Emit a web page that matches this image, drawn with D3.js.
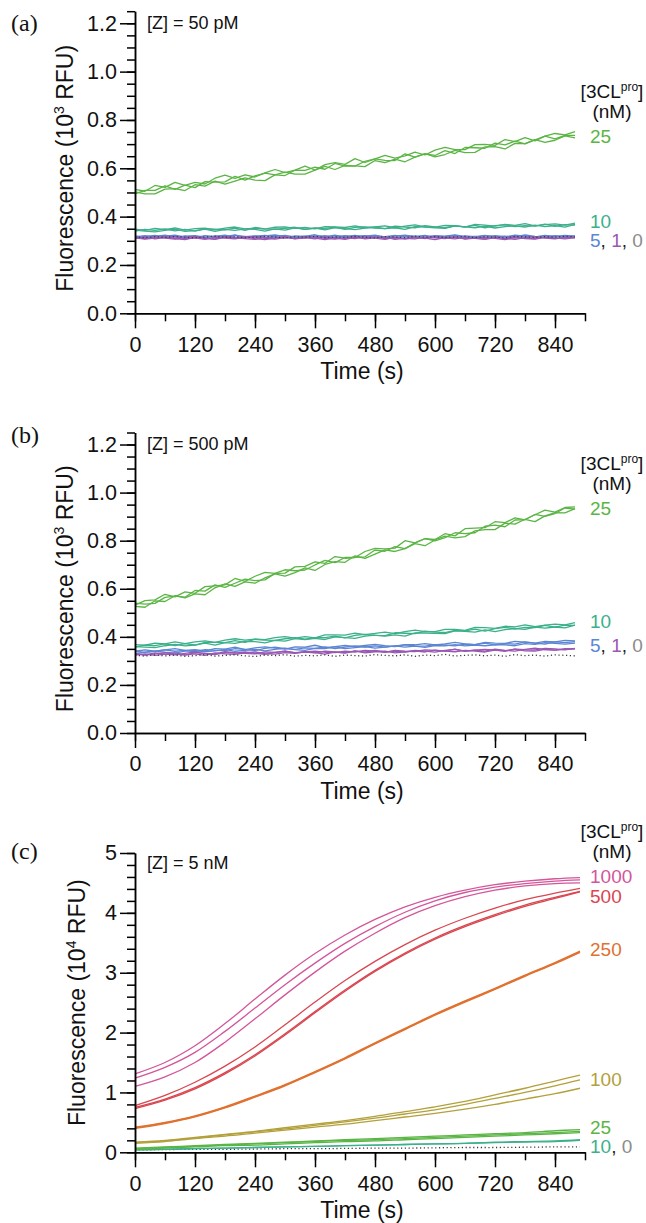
<!DOCTYPE html>
<html>
<head>
<meta charset="utf-8">
<script src="https://cdn.jsdelivr.net/npm/d3@7"></script>
<style>
body { margin: 0; background: #fff; }
svg { font-family: "Liberation Sans", Arial, Helvetica, sans-serif; }
</style>
</head>
<body>
<svg id="fig" width="646" height="1223"></svg>
<script>
// sampling times (s)
var timesAB = [0,20,40,60,80,100,120,140,160,180,200,220,240,260,280,300,320,340,360,380,400,420,440,460,480,500,520,540,560,580,600,620,640,660,680,700,720,740,760,780,800,820,840,860,880];
var timesC = [0,60,120,180,240,300,360,420,480,540,600,660,720,780,840,890];

// panel (a) [Z] = 50 pM, RFU
var a25_1 = [513,505,529,521,542,529,542,535,559,572,558,573,564,581,595,582,592,609,593,615,623,616,640,624,639,653,642,651,667,655,675,687,677,677,698,699,695,719,710,727,713,733,744,738,752];
var a25_2 = [494,509,509,527,513,530,520,545,543,544,567,551,569,580,573,570,592,591,605,596,620,609,609,629,639,633,632,660,646,660,653,673,661,686,685,683,704,697,712,701,718,733,722,736,736];
var a25_3 = [502,494,494,514,516,508,532,526,547,534,547,560,551,549,573,584,576,576,592,608,595,612,610,607,632,623,638,627,646,661,647,657,674,665,666,689,690,680,703,702,719,707,716,734,726];
var a10_1 = [348,343,351,346,353,344,350,352,345,352,357,349,352,348,356,358,351,355,349,359,358,355,362,354,358,362,354,361,366,358,357,364,363,357,368,365,361,368,364,371,362,367,370,365,373];
var a10_2 = [340,347,343,349,341,347,340,349,348,345,352,343,355,349,347,352,356,347,353,351,356,347,356,358,353,350,361,357,354,363,358,354,362,358,364,354,363,366,359,363,361,369,360,367,365];
var a10_3 = [344,340,337,343,348,339,342,348,339,347,343,349,347,340,349,344,354,347,352,345,355,350,346,353,356,350,354,347,359,357,354,351,362,358,354,361,353,359,362,357,365,359,363,357,368];
var a5_1 = [316,321,314,319,323,315,318,312,320,317,324,313,319,322,316,311,320,318,325,314,317,321,315,319,323,316,312,320,318,322,315,319,324,317,313,321,318,316,323,319,314,320,317,322,319];
var a5_2 = [320,314,318,323,316,319,313,321,317,315,322,318,312,320,324,317,314,319,316,321,313,318,322,316,320,314,319,323,317,315,321,318,313,320,317,322,315,319,316,324,318,313,321,317,320];
var a5_3 = [313,318,322,316,311,319,321,315,318,323,314,317,320,313,318,322,316,312,319,317,323,315,318,321,314,317,322,316,319,313,320,317,322,315,318,314,321,317,312,320,316,322,318,314,317];
var a1_1 = [314,309,316,311,307,313,318,310,306,314,311,316,309,305,312,317,310,313,308,315,311,306,314,310,316,309,312,307,314,311,305,313,316,309,312,308,315,310,306,313,317,311,308,314,312];
var a1_2 = [310,315,308,313,317,309,312,306,315,311,308,314,317,310,307,313,309,316,311,305,313,310,317,308,312,315,306,311,314,309,316,312,308,314,310,306,313,311,316,309,307,314,310,313,315];
var a1_3 = [312,307,311,316,309,305,314,311,308,317,312,309,306,314,311,316,308,312,315,310,307,313,309,316,311,306,314,310,308,315,312,309,316,307,311,314,310,305,313,311,309,315,312,308,313];
var a0 = [316,313,317,314,318,315,312,316,319,314,317,313,315,318,316,312,317,315,319,313,316,314,318,315,312,317,316,313,319,315,317,314,316,318,313,317,315,312,318,316,314,317,315,319,316];

// panel (b) [Z] = 500 pM, RFU
var b25_1 = [532,551,554,577,566,587,581,609,612,616,643,631,652,668,664,665,691,693,712,706,734,727,730,755,768,766,769,800,791,808,805,829,820,850,852,854,879,875,895,887,908,927,919,938,941];
var b25_2 = [540,536,539,564,569,565,593,590,616,606,623,640,634,637,664,679,675,678,699,718,709,730,731,733,761,756,775,767,791,809,799,813,833,829,833,860,865,858,886,888,909,901,913,936,931];
var b25_3 = [527,523,550,547,571,562,579,575,604,620,610,629,623,645,662,653,667,687,676,701,713,710,737,726,744,762,755,767,788,779,803,819,812,817,841,846,846,873,869,889,879,903,917,916,933];
var b10_1 = [368,365,374,371,379,372,379,383,377,386,392,386,390,388,397,401,395,401,396,408,408,407,415,409,414,420,413,422,428,422,422,431,431,427,439,438,435,444,441,450,442,449,453,450,459];
var b10_2 = [357,366,363,371,364,372,366,377,377,376,384,377,390,386,385,392,397,390,397,397,403,396,406,410,406,405,417,415,413,424,420,418,427,425,432,424,434,439,433,439,438,448,440,449,448];
var b10_3 = [359,357,355,363,369,362,366,374,366,376,373,381,380,375,385,382,393,388,394,389,400,397,394,403,407,403,408,403,416,416,414,413,425,423,420,429,422,430,434,431,440,436,441,437,449];
var b5_1 = [340,346,340,346,351,344,347,342,351,349,357,347,354,358,353,349,358,357,365,355,359,364,359,364,369,363,359,368,367,372,366,371,377,371,368,377,374,373,381,378,374,381,379,385,383];
var b5_2 = [340,335,340,346,340,344,338,347,344,343,351,348,343,352,357,351,348,354,352,358,351,357,362,357,362,357,362,367,362,361,368,366,362,370,368,374,367,372,370,379,374,370,379,376,380];
var b5_3 = [330,336,341,336,332,341,343,338,342,348,340,344,348,342,348,353,347,344,352,351,358,351,355,359,353,357,362,357,361,356,364,362,368,362,366,363,367,367,363,372,369,376,373,370,374];
var b1_1 = [330,325,333,328,325,331,337,329,326,334,332,337,331,327,335,340,334,337,333,340,337,332,341,337,344,337,341,336,344,341,336,344,348,341,345,341,349,344,341,348,353,347,345,351,350];
var b1_2 = [324,329,323,328,333,325,329,323,333,329,327,333,337,330,328,334,331,338,334,328,337,334,342,333,338,341,333,338,342,337,345,341,338,344,341,337,345,343,349,342,341,348,345,348,351];
var b1_3 = [329,324,329,334,328,324,334,331,329,338,334,331,329,337,335,340,333,337,341,336,334,340,337,344,340,335,344,340,339,346,344,341,349,340,345,348,345,340,349,347,346,352,350,346,352];
var b0 = [323,320,325,321,324,319,322,326,320,323,325,321,318,324,322,326,320,323,321,325,319,324,322,320,326,323,321,325,319,324,322,327,320,323,325,321,324,319,326,322,324,320,325,323,321];

// panel (c) [Z] = 5 nM, 10^4 RFU
var c1000_1 = [1.31,1.50,1.78,2.15,2.56,2.96,3.32,3.63,3.89,4.10,4.26,4.38,4.47,4.53,4.57,4.59];
var c1000_2 = [1.24,1.42,1.67,2.02,2.41,2.80,3.16,3.49,3.77,4.01,4.20,4.34,4.43,4.49,4.53,4.55];
var c1000_3 = [1.10,1.26,1.50,1.84,2.23,2.63,3.01,3.36,3.66,3.92,4.12,4.27,4.38,4.45,4.49,4.50];
var c500_1 = [0.78,0.95,1.17,1.44,1.76,2.13,2.51,2.87,3.19,3.47,3.71,3.91,4.08,4.22,4.33,4.41];
var c500_2 = [0.75,0.89,1.08,1.33,1.63,1.98,2.35,2.71,3.04,3.33,3.58,3.79,3.97,4.13,4.26,4.36];
var c500_3 = [0.73,0.87,1.06,1.31,1.61,1.96,2.33,2.69,3.02,3.31,3.56,3.77,3.95,4.11,4.24,4.35];
var c250_1 = [0.42,0.50,0.61,0.76,0.94,1.13,1.35,1.58,1.83,2.07,2.31,2.53,2.74,2.96,3.17,3.36];
var c250_2 = [0.41,0.49,0.60,0.75,0.93,1.12,1.34,1.57,1.82,2.06,2.30,2.52,2.73,2.95,3.16,3.35];
var c250_3 = [0.40,0.48,0.59,0.74,0.92,1.11,1.33,1.56,1.81,2.05,2.29,2.51,2.72,2.94,3.15,3.34];
var c100_1 = [0.17,0.20,0.25,0.30,0.35,0.41,0.47,0.53,0.60,0.68,0.76,0.85,0.96,1.07,1.19,1.29];
var c100_2 = [0.16,0.19,0.24,0.29,0.34,0.39,0.45,0.51,0.57,0.64,0.71,0.80,0.90,1.00,1.11,1.21];
var c100_3 = [0.15,0.18,0.23,0.27,0.32,0.37,0.42,0.47,0.53,0.59,0.65,0.72,0.80,0.89,0.98,1.07];
var c25_1 = [0.07,0.09,0.11,0.13,0.15,0.17,0.19,0.21,0.23,0.25,0.27,0.29,0.31,0.33,0.36,0.38];
var c25_2 = [0.06,0.08,0.10,0.12,0.14,0.16,0.18,0.20,0.21,0.23,0.25,0.27,0.29,0.31,0.33,0.35];
var c25_3 = [0.05,0.07,0.09,0.11,0.12,0.14,0.16,0.18,0.19,0.21,0.23,0.25,0.27,0.29,0.31,0.33];
var c10_1 = [0.04,0.05,0.06,0.07,0.08,0.09,0.10,0.11,0.12,0.13,0.14,0.15,0.17,0.18,0.19,0.21];
var c10_2 = [0.04,0.05,0.06,0.07,0.08,0.09,0.10,0.11,0.12,0.13,0.14,0.15,0.16,0.17,0.18,0.20];
var c0 = [0.040,0.045,0.050,0.050,0.055,0.060,0.060,0.065,0.070,0.070,0.075,0.080,0.080,0.085,0.090,0.090];

// tick labels
var xTicks = [0,120,240,360,480,600,720,840];
var yTicksAB = [0,200,400,600,800,1000,1200];
var yTicksC = [0,1,2,3,4,5];

var col = {
  p1000: "#d3569b", r500: "#d9464f", o250: "#e0712f", ol100: "#b3a03a",
  g25: "#5bb545", t10: "#3bb08b", b5: "#5c86d4", pu1: "#9b57b4",
  gr0: "#8c8c8c", dot: "#3a3a3a"
};
var FONT = "'Liberation Sans', Arial, Helvetica, sans-serif";

var x = d3.scaleLinear().domain([0, 900]).range([135, 585]);

function S(t, v, c, dots) { return {t: t, v: v, c: c, dots: !!dots}; }

var panels = [
  {
    tag: "(a)", tagY: 31, z: "[Z] = 50 pM", zY: 29,
    y: d3.scaleLinear().domain([0, 1250]).range([313.3, 11.2]),
    major: yTicksAB, minor: d3.range(0, 1251, 50), fmt: function (d) { return (d / 1000).toFixed(1); },
    exp: "3", titleX: 73, curve: d3.curveLinear,
    series: [
      S(timesAB, a25_1, col.g25), S(timesAB, a25_2, col.g25), S(timesAB, a25_3, col.g25),
      S(timesAB, a10_1, col.t10), S(timesAB, a10_2, col.t10), S(timesAB, a10_3, col.t10),
      S(timesAB, a5_1, col.b5), S(timesAB, a5_2, col.b5), S(timesAB, a5_3, col.b5),
      S(timesAB, a1_1, col.pu1), S(timesAB, a1_2, col.pu1), S(timesAB, a1_3, col.pu1),
      S(timesAB, a0, col.dot, true)
    ],
    labels: [
      {v: 735, parts: [["25", col.g25]]},
      {v: 382, parts: [["10", col.t10]]},
      {v: 303, parts: [["5", col.b5], [", ", "#222"], ["1", col.pu1], [", ", "#222"], ["0", col.gr0]]}
    ]
  },
  {
    tag: "(b)", tagY: 443, z: "[Z] = 500 pM", zY: 449.5,
    y: d3.scaleLinear().domain([0, 1250]).range([733, 432.5]),
    major: yTicksAB, minor: d3.range(0, 1251, 50), fmt: function (d) { return (d / 1000).toFixed(1); },
    exp: "3", titleX: 73, curve: d3.curveLinear,
    series: [
      S(timesAB, b25_1, col.g25), S(timesAB, b25_2, col.g25), S(timesAB, b25_3, col.g25),
      S(timesAB, b10_1, col.t10), S(timesAB, b10_2, col.t10), S(timesAB, b10_3, col.t10),
      S(timesAB, b5_1, col.b5), S(timesAB, b5_2, col.b5), S(timesAB, b5_3, col.b5),
      S(timesAB, b1_1, col.pu1), S(timesAB, b1_2, col.pu1), S(timesAB, b1_3, col.pu1),
      S(timesAB, b0, col.dot, true)
    ],
    labels: [
      {v: 934, parts: [["25", col.g25]]},
      {v: 465, parts: [["10", col.t10]]},
      {v: 365, parts: [["5", col.b5], [", ", "#222"], ["1", col.pu1], [", ", "#222"], ["0", col.gr0]]}
    ]
  },
  {
    tag: "(c)", tagY: 859, z: "[Z] = 5 nM", zY: 868.5,
    y: d3.scaleLinear().domain([0, 5]).range([1152.3, 853]),
    major: yTicksC, minor: d3.range(0, 5.01, 0.2), fmt: d3.format("d"),
    exp: "4", titleX: 85, curve: d3.curveCatmullRom,
    series: [
      S(timesC, c0, col.dot, true),
      S(timesC, c10_1, col.t10), S(timesC, c10_2, col.t10),
      S(timesC, c25_1, col.g25), S(timesC, c25_2, col.g25), S(timesC, c25_3, col.g25),
      S(timesC, c100_1, col.ol100), S(timesC, c100_2, col.ol100), S(timesC, c100_3, col.ol100),
      S(timesC, c250_1, col.o250), S(timesC, c250_2, col.o250), S(timesC, c250_3, col.o250),
      S(timesC, c500_1, col.r500), S(timesC, c500_2, col.r500), S(timesC, c500_3, col.r500),
      S(timesC, c1000_1, col.p1000), S(timesC, c1000_2, col.p1000), S(timesC, c1000_3, col.p1000)
    ],
    labels: [
      {v: 4.62, parts: [["1000", col.p1000]]},
      {v: 4.29, parts: [["500", col.r500]]},
      {v: 3.40, parts: [["250", col.o250]]},
      {v: 1.23, parts: [["100", col.ol100]]},
      {v: 0.42, parts: [["25", col.g25]]},
      {v: 0.10, parts: [["10", col.t10], [", ", "#222"], ["0", col.gr0]]}
    ]
  }
];

var svg = d3.select("#fig");

function styleAxis(g) {
  g.selectAll(".domain, .tick line").attr("stroke", "#000").attr("stroke-width", 1.5);
  g.selectAll("text").attr("font-size", 21.5).attr("fill", "#111").attr("font-family", FONT);
}

panels.forEach(function (p) {
  var y = p.y, y0 = y(0);
  var g = svg.append("g").attr("font-family", FONT);

  // data lines
  var line = d3.line().x(function (d) { return x(d[0]); }).y(function (d) { return y(d[1]); }).curve(p.curve);
  p.series.forEach(function (s) {
    var pts = s.t.map(function (t, i) { return [t, s.v[i]]; }).filter(function (d) { return d[1] != null; });
    var path = g.append("path").datum(pts).attr("d", line).attr("fill", "none")
      .attr("stroke", s.c).attr("stroke-linejoin", "round").attr("stroke-width", 1.3);
    if (s.dots) path.attr("stroke-dasharray", "1.2,2.6");
  });

  // y axis
  g.append("g").attr("transform", "translate(135,0)")
    .call(d3.axisLeft(y).tickValues(p.minor).tickSize(8).tickFormat("").tickSizeOuter(0)).call(styleAxis);
  g.append("g").attr("transform", "translate(135,0)")
    .call(d3.axisLeft(y).tickValues(p.major).tickSize(15).tickPadding(3).tickFormat(p.fmt).tickSizeOuter(0)).call(styleAxis);

  // x axis
  g.append("g").attr("transform", "translate(0," + y0 + ")")
    .call(d3.axisBottom(x).tickValues(d3.range(0, 901, 60)).tickSize(8).tickFormat("").tickSizeOuter(0)).call(styleAxis);
  g.append("g").attr("transform", "translate(0," + y0 + ")")
    .call(d3.axisBottom(x).tickValues(xTicks).tickSize(15).tickPadding(8).tickFormat(d3.format("d")).tickSizeOuter(0)).call(styleAxis);

  // axis titles
  g.append("text").attr("x", 362).attr("y", y0 + 66).attr("text-anchor", "middle")
    .attr("font-size", 23).attr("fill", "#111").text("Time (s)");
  var yt = g.append("text")
    .attr("transform", "translate(" + p.titleX + "," + ((y0 + y(p.major[p.major.length - 1])) / 2) + ") rotate(-90)")
    .attr("text-anchor", "middle").attr("font-size", 23).attr("fill", "#111");
  yt.append("tspan").text("Fluorescence (10");
  yt.append("tspan").attr("dy", -9).attr("font-size", 14).text(p.exp);
  yt.append("tspan").attr("dy", 9).text(" RFU)");

  // panel tag and condition
  g.append("text").attr("x", 11).attr("y", p.tagY).attr("font-family", "'Liberation Serif', 'Times New Roman', serif")
    .attr("font-size", 24).attr("fill", "#111").text(p.tag);
  g.append("text").attr("x", 147).attr("y", p.zY).attr("font-size", 18).attr("fill", "#111").text(p.z);

  // right-hand labels
  var top = y(p.labels[0].v);
  var h = g.append("text").attr("x", 612).attr("y", top - 45 + 7).attr("text-anchor", "middle")
    .attr("font-size", 19).attr("fill", "#111");
  h.append("tspan").text("[3CL");
  h.append("tspan").attr("dy", -7).attr("font-size", 12).text("pro");
  h.append("tspan").attr("dy", 7).text("]");
  g.append("text").attr("x", 612).attr("y", top - 25 + 7).attr("text-anchor", "middle")
    .attr("font-size", 19).attr("fill", "#111").text("(nM)");

  p.labels.forEach(function (l) {
    var t = g.append("text").attr("x", 590).attr("y", y(l.v) + 7).attr("font-size", 19);
    l.parts.forEach(function (pt) { t.append("tspan").attr("fill", pt[1]).text(pt[0]); });
  });
});
</script>
</body>
</html>
